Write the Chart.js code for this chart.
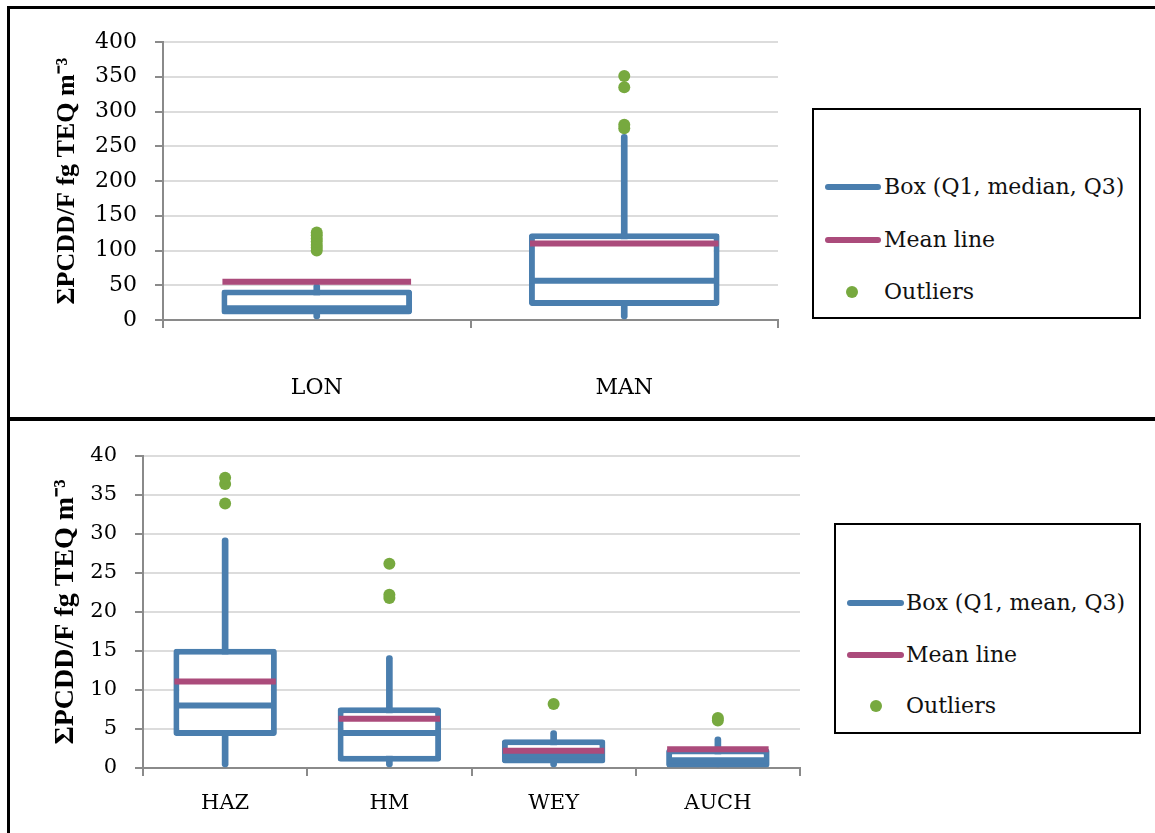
<!DOCTYPE html>
<html>
<head>
<meta charset="utf-8">
<script src="https://cdn.jsdelivr.net/npm/chart.js@4.4.0/dist/chart.umd.min.js"></script>
<style>
body { margin: 0; background: #fff; width: 1155px; height: 833px; position: relative; overflow: hidden; font-family: "DejaVu Serif", serif; }
.wrap { position: absolute; }
.frame { position: absolute; background: #000; }
.legend { position: absolute; border: 2.5px solid #000; box-sizing: border-box; }
.item { position: absolute; font-size: 22px; line-height: 26px; white-space: nowrap; color: #111; }
.sw { position: absolute; height: 6px; border-radius: 3px; }
.dot { position: absolute; width: 12px; height: 12px; border-radius: 6px; background: #77a93f; }
</style>
</head>
<body>
<div class="wrap" style="left:0;top:0"><canvas id="top" width="800" height="418"></canvas></div>
<div class="wrap" style="left:0;top:421px"><canvas id="bottom" width="830" height="412"></canvas></div>

<!-- panel frames -->
<div class="frame" style="left:7px;top:6px;width:1148px;height:3px"></div>
<div class="frame" style="left:7px;top:6px;width:3px;height:827px"></div>
<div class="frame" style="left:7px;top:417px;width:1148px;height:4px"></div>

<!-- legends -->
<div class="legend" style="left:812px;top:108px;width:329px;height:211px"></div>
<div class="sw" style="left:825px;top:184px;width:56px;background:#4a7eae"></div>
<div class="item" style="left:884px;top:174px">Box (Q1, median, Q3)</div>
<div class="sw" style="left:825px;top:237px;width:56px;background:#ab4b7b"></div>
<div class="item" style="left:884px;top:227px">Mean line</div>
<div class="dot" style="left:846px;top:286px"></div>
<div class="item" style="left:884px;top:279px">Outliers</div>

<div class="legend" style="left:834px;top:523px;width:307px;height:211px"></div>
<div class="sw" style="left:847px;top:600px;width:57px;background:#4a7eae"></div>
<div class="item" style="left:906px;top:590px">Box (Q1, mean, Q3)</div>
<div class="sw" style="left:847px;top:652px;width:57px;background:#ab4b7b"></div>
<div class="item" style="left:906px;top:642px">Mean line</div>
<div class="dot" style="left:870px;top:700px"></div>
<div class="item" style="left:906px;top:693px">Outliers</div>

<script>
// top panel
const catsTop = ['LON', 'MAN'];
const q1Top = [8, 20];
const medianTop = [17, 56.5];
const q3Top = [44, 125];
const meanTop = [55, 110];
const whiskLoTop = [0, 0];
const whiskHiTop = [52, 267];
const outliersTop = [[100, 104, 108, 113, 117, 122, 126], [276, 281, 335, 351]];
const yTicksTop = [0, 400, 50];

// bottom panel
const catsBot = ['HAZ', 'HM', 'WEY', 'AUCH'];
const q1Bot = [4.1, 0.8, 0.57, 0.05];
const medianBot = [8.0, 4.5, 1.65, 1.0];
const q3Bot = [15.3, 7.8, 3.7, 2.5];
const meanBot = [11.1, 6.3, 2.2, 2.4];
const whiskLoBot = [0, 0, 0, 0];
const whiskHiBot = [29.5, 14.4, 4.8, 4.0];
const outliersBot = [[33.9, 36.4, 37.2], [21.8, 22.2, 26.2], [8.2], [6.1, 6.4]];
const yTicksBot = [0, 40, 5];

const BLUE = '#4a7eae';
const PINK = '#ab4b7b';
const GREEN = '#77a93f';
const AXIS = '#8a8a8a';
const TITLE = 'ΣPCDD/F fg TEQ m⁻³';

function boxChart(id, cats, q1, med, q3, mean, wLo, wHi, outs, yt, cfg) {
    const halfBox = function(c) {
        const a = c.chart.chartArea;
        return a ? (a.right - a.left) / cats.length * cfg.box / 2 - 1 : 0;
    };
    const outPts = [];
    outs.forEach(function(list, i) {
        list.forEach(function(v) { outPts.push({x: cats[i], y: v}); });
    });
    return new Chart(document.getElementById(id), {
        type: 'bar',
        data: {
            labels: cats,
            datasets: [
                {
                    type: 'line', data: outPts, showLine: false,
                    pointStyle: 'circle', pointRadius: 6, pointBackgroundColor: GREEN,
                    pointBorderWidth: 0, order: 0
                },
                {
                    type: 'line', data: mean, showLine: false,
                    pointStyle: 'line', pointRadius: halfBox,
                    pointBorderColor: PINK, pointBorderWidth: 6, order: 1
                },
                {
                    type: 'line', data: med, showLine: false,
                    pointStyle: 'line', pointRadius: halfBox,
                    pointBorderColor: BLUE, pointBorderWidth: 6, order: 2
                },
                {
                    data: cats.map(function(c, i) { return [q1[i], q3[i]]; }),
                    backgroundColor: '#fff', borderColor: BLUE, borderWidth: 6,
                    borderSkipped: false, borderRadius: 3, grouped: false,
                    barPercentage: cfg.box, categoryPercentage: 1, order: 3
                },
                {
                    data: cats.map(function(c, i) { return [wLo[i], wHi[i]]; }),
                    backgroundColor: BLUE, borderWidth: 0, barThickness: 6,
                    borderSkipped: false, borderRadius: 3, grouped: false, order: 4
                }
            ]
        },
        options: {
            responsive: false,
            animation: false,
            layout: { padding: cfg.pad },
            plugins: { legend: { display: false }, tooltip: { enabled: false } },
            scales: {
                x: {
                    grid: { drawOnChartArea: false, color: AXIS, lineWidth: 2, tickLength: 8 },
                    border: { color: AXIS, width: 2 },
                    ticks: { font: { family: 'DejaVu Serif', size: cfg.font }, color: '#000', padding: cfg.xPad },
                    afterFit: function(s) { s.height = cfg.xH; }
                },
                y: {
                    min: yt[0], max: yt[1],
                    ticks: { stepSize: yt[2], font: { family: 'DejaVu Serif', size: cfg.font }, color: '#000', padding: 18 },
                    grid: { color: '#dcdcdc', lineWidth: 2, tickColor: AXIS, tickLength: 8 },
                    border: { color: AXIS, width: 2 },
                    title: {
                        display: true, text: TITLE, color: '#000',
                        font: { family: 'Liberation Serif', size: cfg.titleSize, weight: 'bold' },
                        padding: { top: cfg.titlePad, bottom: 0 }
                    },
                    afterFit: function(s) { s.width = cfg.yW; }
                }
            }
        }
    });
}

boxChart('top', catsTop, q1Top, medianTop, q3Top, meanTop, whiskLoTop, whiskHiTop, outliersTop, yTicksTop, {
    box: 0.62, font: 22, xPad: 47, xH: 98, yW: 163, titleSize: 26, titlePad: 52,
    pad: { top: 42, right: 22, left: 0, bottom: 0 }
});

boxChart('bottom', catsBot, q1Bot, medianBot, q3Bot, meanBot, whiskLoBot, whiskHiBot, outliersBot, yTicksBot, {
    box: 0.63, font: 21, xPad: 15, xH: 65, yW: 143, titleSize: 28, titlePad: 49,
    pad: { top: 35, right: 30, left: 0, bottom: 0 }
});
</script>
</body>
</html>
